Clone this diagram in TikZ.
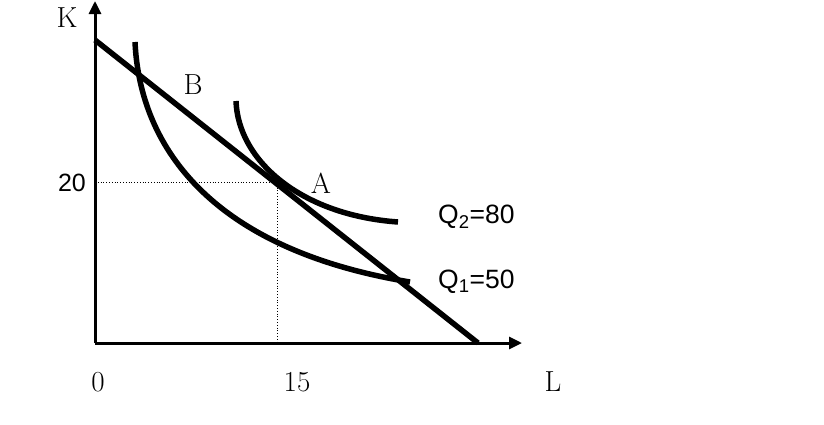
\documentclass[tikz,border=0pt]{standalone}
\usepackage{fontspec}
\newfontfamily\qfont{Liberation Sans}
\usetikzlibrary{arrows.meta}
\begin{document}
\begin{tikzpicture}[x=1pt,y=-1pt,
  axis/.style={line width=3pt,-{Triangle[length=13pt,width=12pt]}},
  thick curve/.style={line width=5.5pt},
  guide/.style={line width=0.8pt,dotted},
  lbl/.style={font=\fontsize{29}{29}\selectfont,inner sep=0pt},
  slbl/.style={font=\qfont\fontsize{25}{25}\selectfont,inner sep=0pt},
  qlbl/.style={font=\qfont\fontsize{26.5}{26.5}\selectfont,inner sep=0pt,anchor=west}]
\useasboundingbox (0,0) rectangle (824,424);
\coordinate (O) at (95,343);
\coordinate (Ktop) at (95,1);
\coordinate (Lend) at (522,343);
\coordinate (BL1) at (95,40);
\coordinate (BL2) at (478,343);
\coordinate (P20) at (95,182);
\coordinate (PA) at (277,182);
\coordinate (P15) at (277,343);
\draw[guide] (P20) -- (PA) -- (P15);
\draw[axis] (O) -- (Ktop);
\draw[axis] (O) -- (Lend);
\draw[thick curve] (BL1) -- (BL2);
\coordinate (Q1s) at (135,42);
\coordinate (Q1e) at (410,282);
\coordinate (Q2s) at (236,101);
\coordinate (Q2e) at (398,222);
\draw[thick curve] (Q1s) .. controls (140,150) and (215,250) .. (Q1e);
\draw[thick curve] (Q2s) .. controls (238,160) and (300,215) .. (Q2e);
\node[lbl] (K) at (67,18) {K};
\node[lbl] (B) at (193,85) {B};
\node[slbl] (t20) at (72,183) {20};
\node[lbl] (A) at (321,183) {A};
\node[lbl] (t0) at (98,382) {0};
\node[lbl] (t15) at (297,382) {15};
\node[lbl] (L) at (553,382) {L};
\node[qlbl] (Q2) at (438,217) {Q\textsubscript{2}=80};
\node[qlbl] (Q1) at (438,282) {Q\textsubscript{1}=50};
\end{tikzpicture}
\end{document}
